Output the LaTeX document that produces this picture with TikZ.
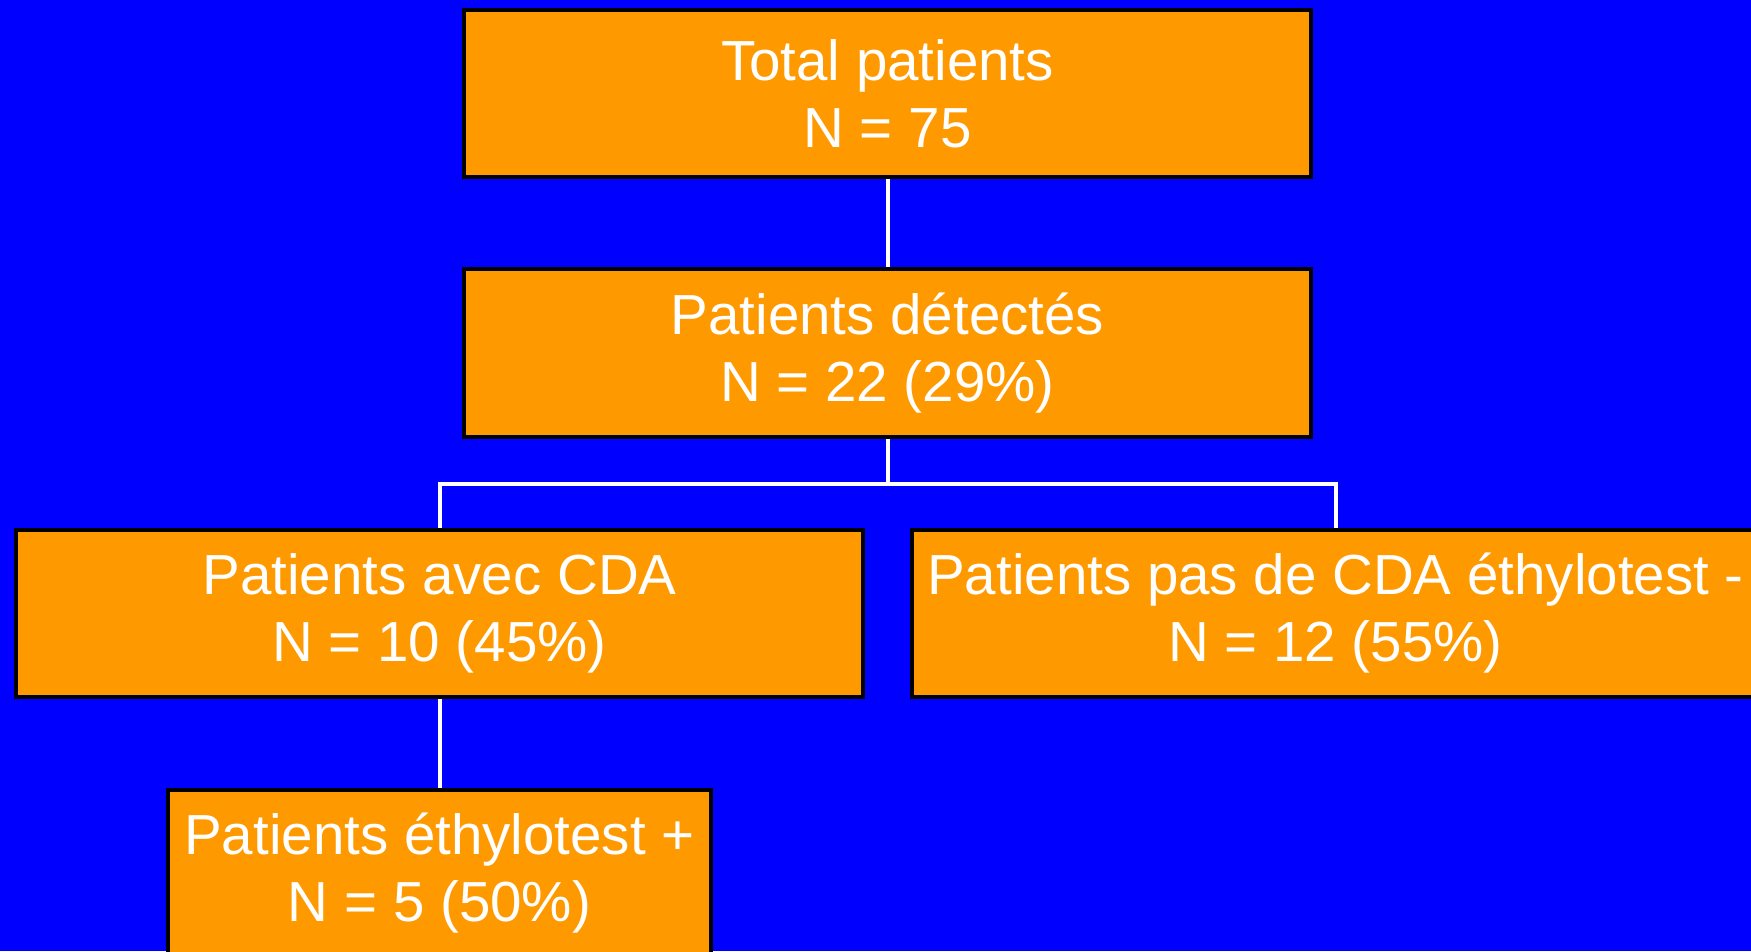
\documentclass[tikz,border=0pt]{standalone}
\usepackage{fontspec}
\setmainfont{Liberation Sans}
\definecolor{bgblue}{RGB}{0,0,255}
\definecolor{boxorange}{RGB}{255,153,0}
\begin{document}
\begin{tikzpicture}[
  x=1pt,y=-1pt,
  flowbox/.style={draw=black, line width=4pt, fill=boxorange, text=white,
    align=center, inner sep=0pt, minimum height=167pt,
    font=\fontsize{56.5}{67}\selectfont},
  link/.style={draw=white, line width=4pt}
]
\fill[bgblue] (0,0) rectangle (1751,951);
\useasboundingbox (0,0) rectangle (1751,951);
\node[flowbox, minimum width=847pt] (total) at (887.5,93.5) {Total patients\\N = 75};
\node[flowbox, minimum width=847pt, minimum height=168pt] (det) at (887.5,353) {Patients détectés\\N = 22 (29\%)};
\node[flowbox, minimum width=847pt] (cda) at (439.5,613.5) {Patients avec CDA\\N = 10 (45\%)};
\node[flowbox, minimum width=847pt] (nocda) at (1335.5,613.5) {Patients pas de CDA éthylotest -\\N = 12 (55\%)};
\node[flowbox, minimum width=543pt] (ethyl) at (439.5,873.5) {Patients éthylotest +\\N = 5 (50\%)};
\coordinate (split) at (887.5,483.7);
\draw[link] (total.south) -- (det.north);
\draw[link] (det.south) -- (split);
\draw[link] (split) -| (cda.north);
\draw[link] (split) -| (nocda.north);
\draw[link] (cda.south) -- (ethyl.north);
\end{tikzpicture}
\end{document}
